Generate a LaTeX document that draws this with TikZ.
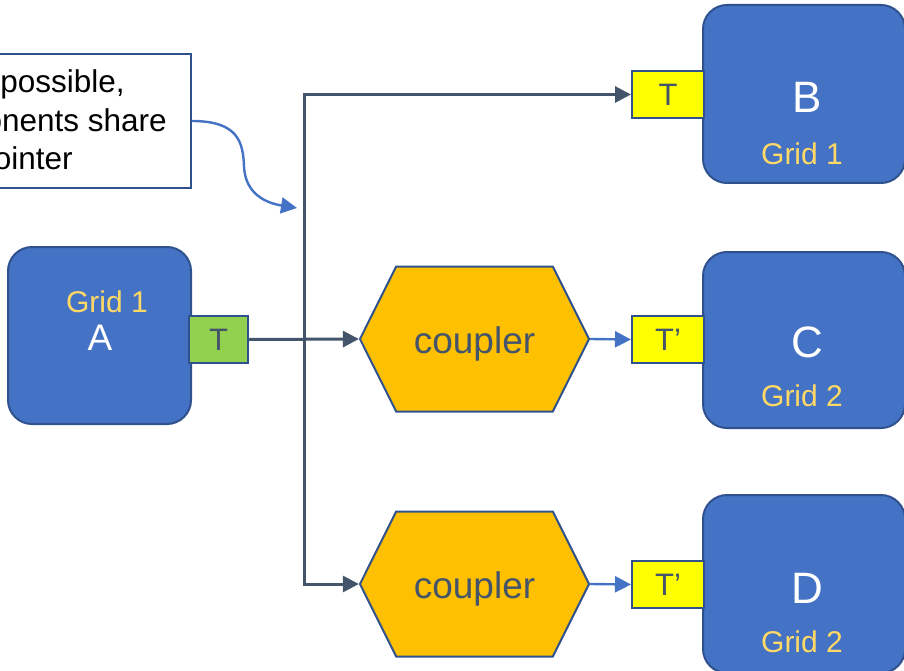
\documentclass[tikz,border=0pt]{standalone}
\usepackage{fontspec}
\setmainfont{Liberation Sans}
\usetikzlibrary{arrows.meta,shapes.symbols}

\definecolor{gridblue}{HTML}{4472C4}
\definecolor{edgeblue}{HTML}{2F528F}
\definecolor{slate}{HTML}{44546A}
\definecolor{gridgold}{HTML}{FFD966}
\definecolor{couplerorange}{HTML}{FFC000}
\definecolor{tgreen}{HTML}{92D050}
\definecolor{tyellow}{HTML}{FFFF00}

\newcommand{\fs}[1]{\fontsize{#1}{1.2\dimexpr#1pt\relax}\selectfont}

\tikzset{
  gridbox/.style={draw=edgeblue, fill=gridblue, line width=2pt,
    rounded corners=24pt, inner sep=0pt},
  gridname/.style={text=white, font=\fs{44}, anchor=base, inner sep=0pt},
  gridlabel/.style={text=gridgold, font=\fs{30}, anchor=base, inner sep=0pt},
  tport/.style={draw=edgeblue, line width=2pt, text=slate, font=\fs{31},
    minimum width=72pt, minimum height=47pt, inner sep=0pt},
  coupler/.style={signal, signal to=east and west, signal pointer angle=127,
    draw=edgeblue, fill=couplerorange, line width=2pt, text=slate,
    font=\fs{37}, minimum width=229pt, minimum height=145pt, inner sep=0pt,
    text height=28pt, text depth=0pt},
  notebox/.style={draw=edgeblue, fill=white, line width=1.5pt, inner sep=0pt},
  noteline/.style={text=black, font=\fs{31.5}, anchor=base east, inner sep=0pt},
  darkarrow/.style={draw=slate, line width=3pt,
    -{Triangle[length=16pt,width=16pt]}},
  bluearrow/.style={draw=gridblue, line width=2.4pt,
    -{Triangle[length=16pt,width=16pt]}},
}

\begin{document}
\begin{tikzpicture}[x=1pt,y=-1pt]
\useasboundingbox (0,0) rectangle (904,671);
\clip (0,0) rectangle (904,671);

% explanatory note with its curved pointer
\node[notebox, minimum width=341pt, minimum height=134pt] (note) at (20.5,121) {};
\node[noteline] (n1) at (125,93) {Where possible,};
\node[noteline] (n2) at (167,132) {components share};
\node[noteline] (n3) at (73,170) {one pointer};
\coordinate (ptr) at (297,208);
\draw[bluearrow] (note.east) .. controls (238,121) and (243,142) .. (244,166)
  .. controls (245,194) and (266,203) .. (ptr);

% grid components
\node[gridbox, minimum width=183pt, minimum height=177pt] (A) at (99.5,335.5) {};
\node[gridlabel] (Ag) at (107,312) {Grid 1};
\node[gridname, font=\fs{37}] (An) at (100,350) {A};

\node[gridbox, minimum width=202pt, minimum height=178pt] (B) at (804,94) {};
\node[gridname] (Bn) at (807,113) {B};
\node[gridlabel] (Bg) at (802,165) {Grid 1};

\node[gridbox, minimum width=202pt, minimum height=176pt] (C) at (804,340) {};
\node[gridname] (Cn) at (807,357) {C};
\node[gridlabel] (Cg) at (802,406) {Grid 2};

\node[gridbox, minimum width=202pt, minimum height=178pt] (D) at (804,584) {};
\node[gridname] (Dn) at (807,603) {D};
\node[gridlabel] (Dg) at (802,652) {Grid 2};

% transfer ports
\node[tport, fill=tgreen, minimum width=59pt] (TA) at (218.5,339.5) {T};
\node[tport, fill=tyellow] (TB) at (668,94.5) {T};
\node[tport, fill=tyellow] (TC) at (668,339.5) {T’};
\node[tport, fill=tyellow] (TD) at (668,584.5) {T’};

% couplers
\node[coupler] (H1) at (474.5,339) {coupler};
\node[coupler] (H2) at (474.5,584) {coupler};

% distribution from A
\coordinate (J) at (304,339.5);
\draw[darkarrow] (TA.east) -- (H1.west);
\draw[darkarrow] (J) |- (TB.west);
\draw[darkarrow] (J) |- (H2.west);

% coupler outputs
\draw[bluearrow] (H1.east) -- (TC.west);
\draw[bluearrow] (H2.east) -- (TD.west);
\end{tikzpicture}
\end{document}
